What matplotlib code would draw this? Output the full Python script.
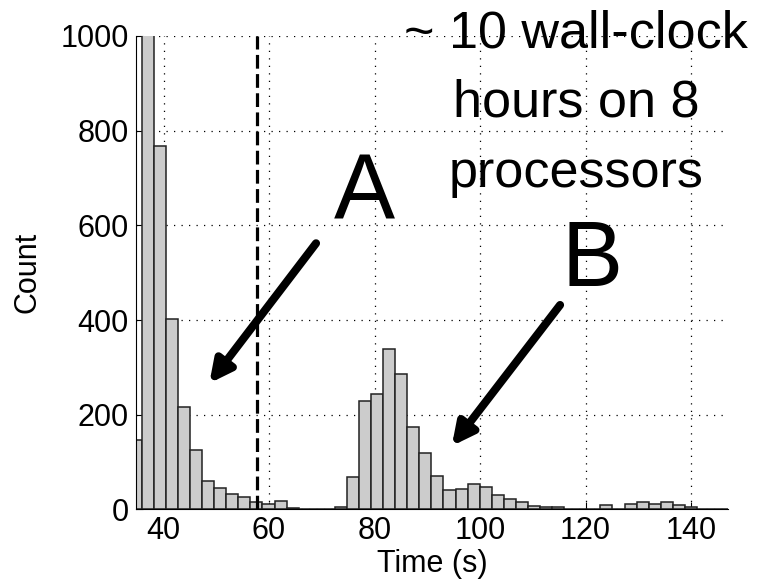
import matplotlib.pyplot as plt
import numpy as np

plt.rcParams['font.family'] = ['Liberation Sans', 'DejaVu Sans']

# histogram of run times: 50 equal bins
bin_start = 33.58
bin_width = 2.288
counts = [147, 1210, 767, 402, 217, 126, 60, 45, 33, 27,
          16, 11, 17, 3, 0, 0, 2, 6, 69, 229,
          244, 338, 287, 175, 120, 71, 41, 44, 54, 48,
          30, 22, 16, 7, 5, 5, 1, 1, 0, 9,
          1, 12, 15, 12, 15, 10, 5, 2, 1, 2]
cutoff = 57.7
xticks = [40, 60, 80, 100, 120, 140]
yticks = [0, 200, 400, 600, 800, 1000]

lefts = bin_start + bin_width * np.arange(len(counts))

fig = plt.figure(figsize=(7.57, 5.83), dpi=100)
ax = fig.add_axes([0.1793, 0.1261, 0.7824, 0.8122])

ax.bar(lefts, counts, width=bin_width, align='edge',
       color='#cccccc', edgecolor='#222222', linewidth=1.1, zorder=2)
ax.axvline(cutoff, color='black', lw=2.3, linestyle=(0, (4.3, 1.7)), zorder=3)

ax.set_xlim(34.73, 147.0)
ax.set_ylim(0, 1000)
ax.set_xticks(xticks)
ax.set_yticks(yticks)
ax.set_axisbelow(True)
ax.grid(True, color='black', lw=0.9, linestyle=(0, (1, 5)))
ax.tick_params(direction='in', length=4.7, width=0.8, labelsize=22, pad=5)
ax.spines['top'].set_visible(False)
ax.spines['right'].set_visible(False)
for s in ax.spines.values():
    s.set_linewidth(0.8)
ax.set_xlabel('Time (s)', fontsize=22, labelpad=2)
ax.set_ylabel('Count', fontsize=22, labelpad=13)

# annotations
ax.text(78.0, 664, 'A', fontsize=66, ha='center', va='center', zorder=4)
ax.text(121.2, 522, 'B', fontsize=66, ha='center', va='center', zorder=4)
ax.annotate('', xy=(48.68, 266.5), xytext=(68.91, 562.2),
            arrowprops=dict(arrowstyle='-|>,head_length=1.3,head_width=0.65',
                            color='black', lw=5.8, shrinkA=0, shrinkB=0),
            zorder=4)
ax.annotate('', xy=(94.64, 134.1), xytext=(115.17, 431.9),
            arrowprops=dict(arrowstyle='-|>,head_length=1.3,head_width=0.65',
                            color='black', lw=5.8, shrinkA=0, shrinkB=0),
            zorder=4)
fig.text(576 / 757, 1 - 9 / 583, '~ 10 wall-clock\nhours on 8\nprocessors',
         fontsize=37.5, ha='center', va='top', linespacing=1.55)

fig.savefig('out.png', dpi=100)
